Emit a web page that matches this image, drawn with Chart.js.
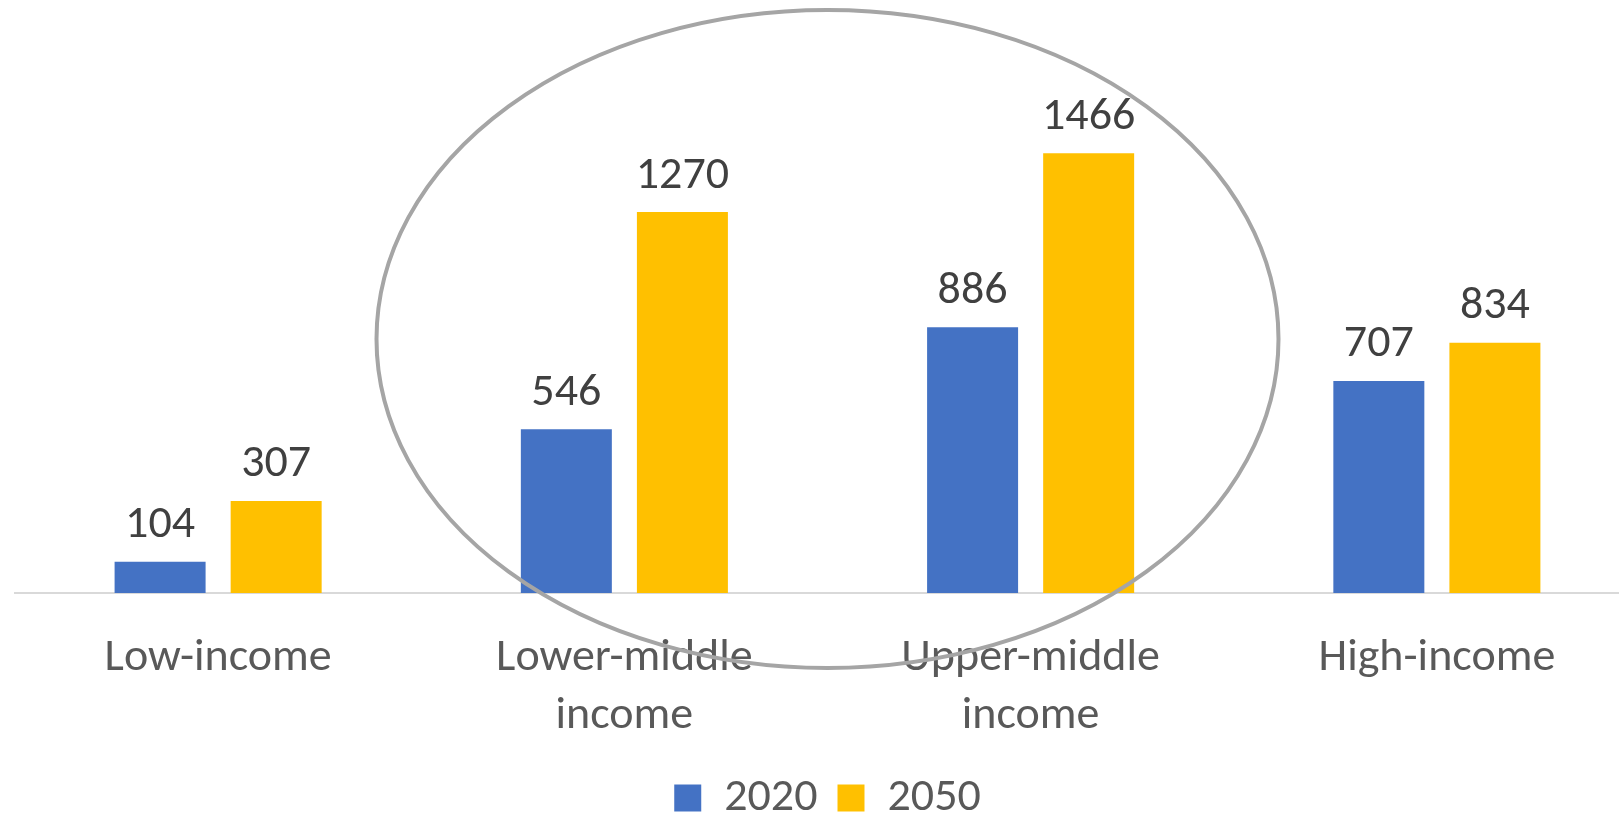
<!DOCTYPE html>
<html>
<head>
<meta charset="utf-8">
<title>Income groups, 2020 and 2050</title>
<script src="https://cdn.jsdelivr.net/npm/chart.js@4.4.1/dist/chart.umd.min.js"></script>
<style>
  html, body { margin: 0; padding: 0; background: #fff; overflow: hidden; }
  #wrap { position: relative; width: 1645px; height: 831px; }
</style>
</head>
<body>
<div id="wrap"><canvas id="incomeChart"></canvas></div>
<script>
const categories = [['Low-income'], ['Lower-middle', 'income'], ['Upper-middle', 'income'], ['High-income']];
const seriesNames = ['2020', '2050'];
const values2020 = [104, 546, 886, 707];
const values2050 = [307, 1270, 1466, 834];
const seriesColors = ['#4472C4', '#FFC000'];

const FONT = 'Calibri, Carlito, Lato, "Open Sans", sans-serif';

// numbers above each bar
const valueLabels = {
    id: 'valueLabels',
    afterDatasetsDraw(chart) {
        const ctx = chart.ctx;
        ctx.save();
        ctx.font = '46px ' + FONT;
        ctx.fillStyle = '#404040';
        ctx.textAlign = 'center';
        ctx.textBaseline = 'middle';
        chart.data.datasets.forEach((ds, i) => {
            chart.getDatasetMeta(i).data.forEach((bar, j) => {
                ctx.fillText(ds.data[j], bar.x, bar.y - 36);
            });
        });
        ctx.restore();
    }
};

// grey ring around the two middle-income groups
const highlightRing = {
    id: 'highlightRing',
    afterDraw(chart) {
        const { ctx, chartArea } = chart;
        const cx = (chartArea.left + chartArea.right) / 2;
        const cy = chartArea.bottom - 254;
        ctx.save();
        ctx.beginPath();
        ctx.ellipse(cx, cy, 451, 329, 0, 0, Math.PI * 2);
        ctx.lineWidth = 4;
        ctx.strokeStyle = '#A5A5A5';
        ctx.stroke();
        ctx.restore();
    }
};

const ctx = document.getElementById('incomeChart').getContext('2d');
new Chart(ctx, {
    type: 'bar',
    data: {
        labels: categories,
        datasets: [
            { label: seriesNames[0], data: values2020, backgroundColor: seriesColors[0] },
            { label: seriesNames[1], data: values2050, backgroundColor: seriesColors[1] }
        ]
    },
    options: {
        responsive: true,
        maintainAspectRatio: false,
        animation: false,
        categoryPercentage: 0.5714,
        barPercentage: 0.784,
        layout: { padding: { top: 23, left: 15, right: 5, bottom: 0 } },
        plugins: {
            tooltip: { enabled: false },
            legend: {
                position: 'bottom',
                labels: {
                    boxWidth: 27,
                    boxHeight: 27,
                    padding: 20,
                    color: '#595959',
                    font: { family: FONT, size: 46 }
                }
            }
        },
        scales: {
            x: {
                grid: { display: false, drawTicks: false },
                border: { display: true, color: '#D9D9D9', width: 2 },
                ticks: {
                    color: '#595959',
                    padding: 36,
                    maxRotation: 0,
                    font: { family: FONT, size: 46, lineHeight: '58px' }
                },
                // fixed band for the two-line category names
                afterFit(scale) {
                    scale.height = 162;
                }
            },
            y: {
                display: false,
                min: 0,
                max: 1900
            }
        }
    },
    plugins: [valueLabels, highlightRing]
});
</script>
</body>
</html>
